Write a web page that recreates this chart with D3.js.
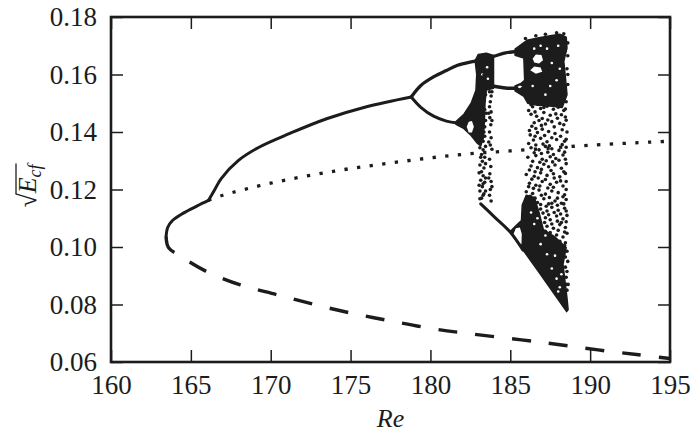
<!DOCTYPE html>
<html>
<head>
<meta charset="utf-8">
<script src="https://cdn.jsdelivr.net/npm/d3@7"></script>
<style>
body { margin: 0; background: #fff; }
svg text { font-family: "Liberation Serif", "Times New Roman", Times, Tinos, "Noto Serif", "DejaVu Serif", FreeSerif, serif; }
</style>
</head>
<body>
<div id="chart"></div>
<script>
// axes
const xTicks = [160, 165, 170, 175, 180, 185, 190, 195];
const yTicks = [0.06, 0.08, 0.10, 0.12, 0.14, 0.16, 0.18];

// stable branch: turning point -> kink, kink -> first period doubling
const solidA = [[163.45,0.1036],[163.55,0.1068],[163.85,0.1092],[164.5,0.1117],[165.4,0.1143],[166.1,0.1162]];
const solidB = [[166.1,0.1162],[166.5,0.1200],[166.9,0.1238],[168.0,0.1302],[169.3,0.1348],[171.2,0.1395],[173.5,0.1446],[176.0,0.1488],[178.8,0.1522]];

// unstable branches
const dashedLow = [[163.45,0.1036],[163.6,0.0998],[164.3,0.0970],[165.9,0.0917],[168.1,0.0868],[170.4,0.0834],[172.8,0.0799],[175.2,0.0768],[177.5,0.0743],[179.9,0.0718],[182.5,0.0698],[185.7,0.0677],[188.1,0.0660],[190.5,0.0642],[192.9,0.0626],[195,0.0612]];
const dottedMid = [[166.1,0.1162],[167,0.1180],[170,0.1222],[174,0.1264],[178,0.1296],[182,0.1322],[186,0.1338],[190,0.1354],[195,0.1368]];

// period doubling branches
const branchUp2 = [[178.8,0.1522],[179.4,0.1562],[180.2,0.1592],[181.0,0.1614],[181.7,0.1632],[182.9,0.1648],[183.9,0.1662],[184.7,0.1675],[185.4,0.1680]];
const branchLow2 = [[178.8,0.1522],[179.4,0.1486],[180.2,0.1455],[181.0,0.1438],[181.7,0.1431]];
const branchLow4 = [[183.9,0.1560],[184.7,0.1553],[185.4,0.1552]];
const diagLine = [[183.15,0.1150],[184.0,0.1105],[184.98,0.1053],[185.8,0.0989]];

// dense (black) regions of the diagram
const windowBlob = [[181.6,0.1436],[182.1,0.1462],[182.55,0.1500],[182.85,0.1545],[182.9,0.1600],[182.8,0.1648],[183.0,0.1670],[183.5,0.1674],[183.95,0.1666],[183.95,0.1552],[183.5,0.1546],[183.42,0.1505],[183.38,0.1440],[183.32,0.1380],[183.15,0.1352],[182.95,0.1360],[182.55,0.1388],[182.05,0.1414],[181.6,0.1427]];
const topBlob = [[185.3,0.1688],[185.9,0.1713],[186.05,0.1719],[186.8,0.1728],[187.6,0.1736],[188.1,0.1740],[188.5,0.1730],[188.55,0.1692],[188.35,0.1646],[188.45,0.1590],[188.55,0.1530],[188.25,0.1485],[187.5,0.1490],[186.7,0.1493],[186.1,0.1500],[185.85,0.1524],[185.3,0.1543],[185.3,0.1560],[185.7,0.1570],[185.9,0.1580],[185.85,0.1657],[185.3,0.1667]];
const bottomBlob = [[184.98,0.1053],[185.4,0.1076],[185.7,0.1092],[185.75,0.1146],[186.0,0.1180],[186.5,0.1172],[186.8,0.1120],[187.07,0.1060],[187.8,0.1035],[188.5,0.0998],[188.3,0.0940],[188.55,0.0822],[188.62,0.0782],[188.53,0.0775],[186.8,0.0912]];

// white gaps inside the dense regions
const holes = [
  [[182.27,0.1418],[182.4,0.1436],[182.6,0.1438],[182.72,0.1418],[182.6,0.1398],[182.4,0.1398]],
  [[186.4,0.1655],[186.6,0.1670],[186.95,0.1668],[187.05,0.1650],[186.8,0.1638],[186.5,0.1642]],
  [[186.25,0.1615],[186.5,0.1628],[186.9,0.1624],[187.0,0.1610],[186.6,0.1603]],
  [[185.4,0.1556],[185.6,0.1562],[185.75,0.1558],[185.6,0.1552]],
  [[185.2,0.1045],[185.35,0.1065],[185.6,0.1068],[185.72,0.1045],[185.7,0.1010],[185.55,0.1013],[185.35,0.1030]]
];
const specks = [[183.55,0.1625],[183.25,0.1600],[183.6,0.1585],
  [186.5,0.1690],[186.9,0.1700],[187.3,0.1690],[188.0,0.1700],[187.6,0.1640],[188.1,0.1620],[187.9,0.1580],[187.5,0.1560],[187.2,0.1530],[186.4,0.1560],
  [186.5,0.1080],[186.3,0.1120],[186.7,0.1100],[187.2,0.1040],[186.9,0.1010],[187.3,0.0975],[187.8,0.0970],[187.6,0.0925],[187.9,0.0890],[188.2,0.0905],[188.1,0.0860],[188.0,0.0845]];

// scattered iterates: window near Re 183
const scatter183 = [[183.2,0.1640],[183.3,0.1625],[183.1,0.1610],[183.35,0.1598],[183.2,0.1585],[183.3,0.1570],[183.15,0.1560],[183.4,0.1548],[183.25,0.1520],[183.35,0.1505],[183.2,0.1490],[183.4,0.1478],[183.3,0.1462],[183.45,0.1440],[183.4,0.1418],[183.35,0.1400],[183.4,0.1385],[183.3,0.1368],[183.1,0.1345],[183.3,0.1338],[183.2,0.1322],[183.4,0.1312],[183.25,0.1298],[183.1,0.1285],[183.35,0.1275],[183.2,0.1262],[183.3,0.1248],[183.15,0.1232],[183.4,0.1225],[183.25,0.1210],[183.1,0.1195],[183.35,0.1185],[183.2,0.1170],
  [183.05,0.1595],[183.45,0.1605],[183.15,0.1535],[183.45,0.1530],[183.05,0.1470],[183.25,0.1450],[183.5,0.1465],[183.45,0.1350],[183.15,0.1312],[183.45,0.1290],[183.05,0.1258],[183.45,0.1240],[183.3,0.1220],[183.05,0.1215],[183.45,0.1195],[183.3,0.1180],[183.1,0.1168],
  [183.75,0.1640],[183.8,0.1620],[183.7,0.1605],[183.8,0.1590],[183.75,0.1575],[183.7,0.1540],[183.8,0.1525],[183.75,0.1505],[183.7,0.1488],[183.8,0.1470],[183.72,0.1450],[183.78,0.1425],[183.7,0.1400],[183.8,0.1380],[183.75,0.1355],[183.7,0.1305],[183.78,0.1280],[183.72,0.1255],[183.8,0.1228],[183.75,0.1200],[183.7,0.1180],[183.8,0.1160],
  [183.85,0.1610],[183.65,0.1560],[183.85,0.1540],[183.65,0.1465],[183.85,0.1440],[183.65,0.1365],[183.85,0.1340],[183.65,0.1240],[183.85,0.1210]];

// scattered iterates: chaotic band
const scatterChaos = [
  [186.4,0.1488],[186.9,0.1482],[187.3,0.1490],[187.7,0.1479],[188.0,0.1486],[188.35,0.1475],
  [186.3,0.1462],[186.65,0.1455],[187.1,0.1468],[187.5,0.1458],[187.85,0.1463],[188.45,0.1452],
  [186.5,0.1432],[186.8,0.1440],[187.2,0.1428],[187.6,0.1436],[188.1,0.1430],[188.5,0.1441],
  [186.2,0.1405],[186.7,0.1398],[187.0,0.1410],[187.4,0.1402],[187.8,0.1395],[188.25,0.1408],
  [186.45,0.1372],[186.9,0.1378],[187.3,0.1366],[187.9,0.1374],[188.4,0.1368],
  [186.3,0.1345],[186.8,0.1338],[187.2,0.1350],[187.6,0.1342],[188.05,0.1336],[188.5,0.1347],
  [186.1,0.1312],[186.6,0.1318],[187.0,0.1305],[187.5,0.1314],[187.85,0.1308],[188.3,0.1320],
  [186.3,0.1282],[186.7,0.1276],[187.1,0.1288],[187.4,0.1279],[187.8,0.1285],[188.2,0.1274],[188.5,0.1290],
  [186.0,0.1252],[186.5,0.1246],[186.9,0.1258],[187.3,0.1249],[187.7,0.1255],[188.1,0.1244],[188.45,0.1256],
  [186.2,0.1222],[186.6,0.1215],[187.0,0.1228],[187.5,0.1218],[187.9,0.1225],[188.3,0.1212],
  [186.0,0.1192],[186.4,0.1186],[186.8,0.1198],[187.2,0.1184],[187.6,0.1195],[188.0,0.1189],[188.4,0.1182],
  [186.3,0.1162],[186.7,0.1155],[187.1,0.1168],[187.4,0.1150],[187.8,0.1160],[188.2,0.1152],[188.5,0.1165],
  [186.9,0.1132],[187.3,0.1125],[187.6,0.1138],[188.0,0.1128],[188.4,0.1135],
  [187.2,0.1102],[187.5,0.1095],[187.9,0.1108],[188.3,0.1098],[188.55,0.1110],
  [187.3,0.1072],[187.7,0.1065],[188.1,0.1078],[188.45,0.1068],
  [187.9,0.1042],[188.3,0.1035],[188.55,0.1048],
  [188.45,0.0965],[188.5,0.0895],[188.55,0.0850],
  [188.6,0.1665],[188.55,0.1620],[188.6,0.1565],[188.5,0.1505],
  [186.15,0.1475],[186.55,0.1470],[187.0,0.1447],[187.35,0.1442],[187.95,0.1448],[188.2,0.1460],
  [186.35,0.1420],[186.6,0.1412],[186.95,0.1423],[187.75,0.1418],[188.35,0.1425],[188.55,0.1400],
  [186.25,0.1390],[186.55,0.1385],[187.15,0.1388],[187.6,0.1380],[188.15,0.1385],[188.5,0.1375],
  [186.15,0.1360],[186.6,0.1355],[187.05,0.1358],[187.45,0.1352],[188.25,0.1356],
  [186.5,0.1328],[186.95,0.1325],[187.35,0.1330],[187.7,0.1322],[188.4,0.1330],
  [186.4,0.1298],[186.85,0.1295],[187.25,0.1300],[187.65,0.1296],[188.05,0.1302],[188.45,0.1305],
  [186.2,0.1268],[186.55,0.1262],[186.95,0.1270],[187.55,0.1266],[188.35,0.1262],
  [186.35,0.1236],[186.75,0.1240],[187.2,0.1235],[187.75,0.1240],[188.15,0.1230],[188.5,0.1228],
  [186.15,0.1210],[186.45,0.1204],[186.85,0.1212],[187.35,0.1205],[187.7,0.1208],[188.5,0.1200],
  [186.25,0.1176],[186.55,0.1170],[186.95,0.1180],[187.45,0.1172],[187.95,0.1170],[188.3,0.1175],
  [186.9,0.1148],[187.25,0.1142],[187.6,0.1152],[187.95,0.1145],[188.35,0.1150],
  [187.05,0.1118],[187.4,0.1112],[187.75,0.1120],[188.15,0.1115],[188.5,0.1125],
  [187.15,0.1085],[187.6,0.1080],[187.95,0.1090],[188.2,0.1085],[188.5,0.1088],
  [187.5,0.1050],[188.0,0.1058],[188.4,0.1052],
  [188.1,0.1020],[188.45,0.1015],[188.55,0.0985],[188.45,0.0930],[188.55,0.0915],[188.5,0.0870],
  [188.6,0.0950],[188.62,0.0870],[188.4,0.1005],[187.5,0.1030],[187.2,0.1055],
  [185.95,0.1725],[186.6,0.1735],[187.2,0.1740],[187.9,0.1745],[188.35,0.1742],[188.6,0.1710],
  [188.6,0.1600],[188.45,0.1480],[187.1,0.1485],[186.3,0.1495]];

const ink = "#1c1c1c";

let margin = {top: 17, right: 30, bottom: 75, left: 111},
    width = 700 - margin.left - margin.right,
    height = 437 - margin.top - margin.bottom;

let root = d3.select("#chart").append("svg")
    .attr("width", 700)
    .attr("height", 437);
let svg = root.append("g")
    .attr("transform", "translate(" + margin.left + "," + margin.top + ")");

let x = d3.scaleLinear().domain([160, 195]).range([0, width]);
let y = d3.scaleLinear().domain([0.06, 0.18]).range([height, 0]);

let line = d3.line().x(d => x(d[0])).y(d => y(d[1])).curve(d3.curveCatmullRom);
let poly = d3.line().x(d => x(d[0])).y(d => y(d[1])).curve(d3.curveLinearClosed);

// ticks on all four sides, pointing in
let axes = [
    svg.append("g").attr("transform", `translate(0,${height})`)
        .call(d3.axisBottom(x).tickValues(xTicks).tickSize(-12).tickPadding(13).tickFormat(d3.format("d"))),
    svg.append("g")
        .call(d3.axisTop(x).tickValues(xTicks).tickSize(-12).tickFormat("")),
    svg.append("g")
        .call(d3.axisLeft(y).tickValues(yTicks).tickSize(-12).tickPadding(14).tickFormat(d3.format(".2f"))),
    svg.append("g").attr("transform", `translate(${width},0)`)
        .call(d3.axisRight(y).tickValues(yTicks).tickSize(-12).tickFormat(""))
];
axes.forEach(a => a.attr("font-size", 27).attr("font-family", null));
svg.selectAll(".domain").remove();
svg.selectAll(".tick line").attr("stroke", ink).attr("stroke-width", 1.5);
svg.selectAll(".tick text").attr("fill", ink);

// dense regions + gaps
svg.selectAll("path.blob")
    .data([windowBlob, topBlob, bottomBlob])
    .join("path")
    .attr("class", "blob")
    .attr("d", poly)
    .attr("fill", ink)
    .attr("stroke", ink)
    .attr("stroke-width", 1.5)
    .attr("stroke-linejoin", "round");

svg.selectAll("path.hole")
    .data(holes)
    .join("path")
    .attr("class", "hole")
    .attr("d", poly)
    .attr("fill", "#fff");

svg.selectAll("circle.speck")
    .data(specks)
    .join("circle")
    .attr("class", "speck")
    .attr("cx", d => x(d[0]))
    .attr("cy", d => y(d[1]))
    .attr("r", 1.3)
    .attr("fill", "#fff");

// curves
let curves = [
    {d: solidA, w: 3, dash: null},
    {d: solidB, w: 3, dash: null},
    {d: branchUp2, w: 3.3, dash: null},
    {d: branchLow2, w: 3, dash: null},
    {d: branchLow4, w: 3.5, dash: null},
    {d: diagLine, w: 3, dash: null},
    {d: dashedLow, w: 3.4, dash: "19,18"},
    {d: dottedMid, w: 3.3, dash: "3.3,9.4"}
];
svg.selectAll("path.curve")
    .data(curves)
    .join("path")
    .attr("class", "curve")
    .attr("d", c => line(c.d))
    .attr("fill", "none")
    .attr("stroke", ink)
    .attr("stroke-width", c => c.w)
    .attr("stroke-dasharray", c => c.dash)
    .attr("stroke-linecap", c => c.dash ? "butt" : "round");

svg.selectAll("circle.pt")
    .data(scatter183.concat(scatterChaos))
    .join("circle")
    .attr("class", "pt")
    .attr("cx", d => x(d[0]))
    .attr("cy", d => y(d[1]))
    .attr("r", 1.8)
    .attr("fill", ink);

// frame
svg.append("rect")
    .attr("width", width)
    .attr("height", height)
    .attr("fill", "none")
    .attr("stroke", ink)
    .attr("stroke-width", 2.6);

// x label
svg.append("text")
    .attr("x", width / 2)
    .attr("y", height + 65)
    .attr("text-anchor", "middle")
    .attr("font-size", 26)
    .attr("font-style", "italic")
    .attr("fill", ink)
    .text("Re");

// y label: sqrt(E_cf) with overbar
let yl = root.append("g").attr("transform", "translate(36,186) rotate(-90)");
let lab = yl.append("text").attr("font-size", 26).attr("fill", ink);
lab.append("tspan").text("\u221A");
lab.append("tspan").attr("font-style", "italic").text("E");
lab.append("tspan").attr("font-style", "italic").attr("font-size", 18).attr("dy", 5).text("cf");
let total = lab.node().getComputedTextLength();
let eStart = lab.node().getStartPositionOfChar(1).x;
lab.attr("x", -total / 2);
yl.append("line")
    .attr("x1", -total / 2 + eStart - 1)
    .attr("x2", total / 2 + 1)
    .attr("y1", -20)
    .attr("y2", -20)
    .attr("stroke", ink)
    .attr("stroke-width", 1.3);
</script>
</body>
</html>
